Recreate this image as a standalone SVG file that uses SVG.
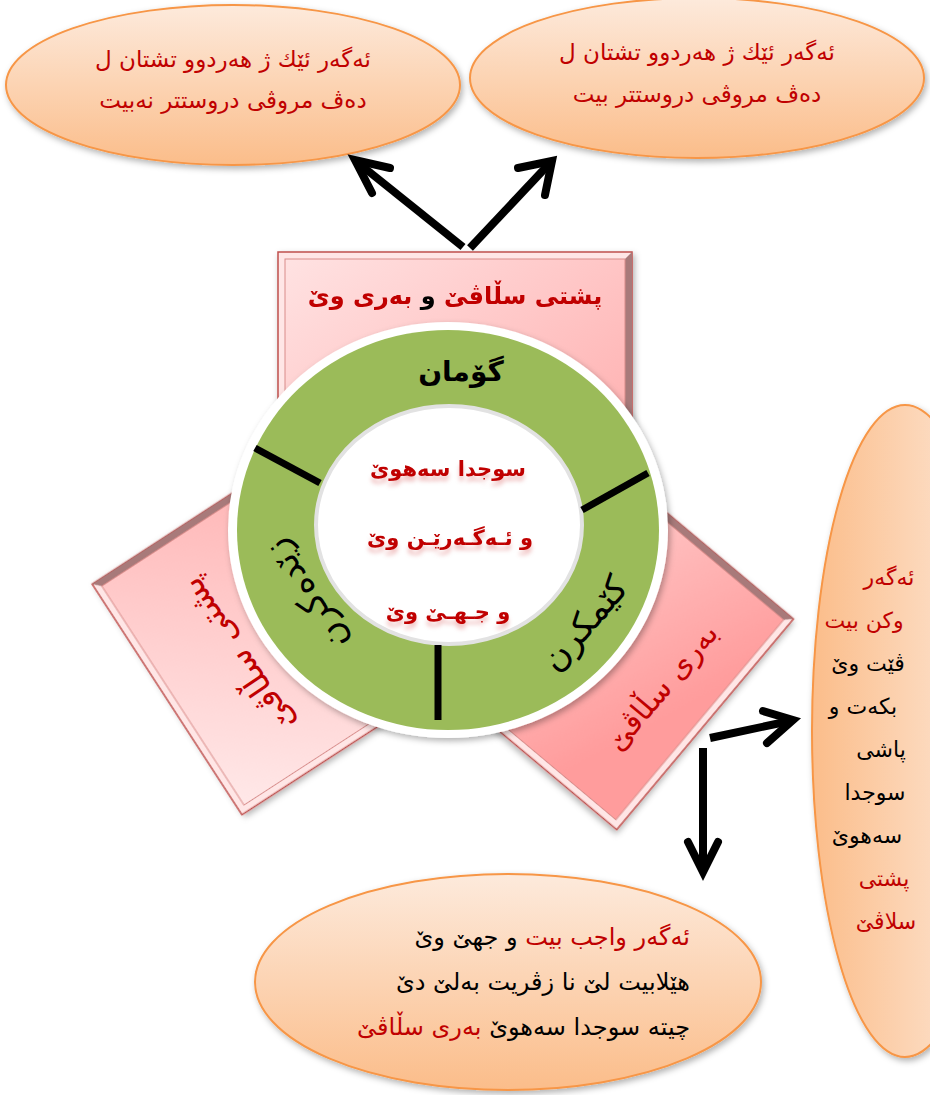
<svg xmlns="http://www.w3.org/2000/svg" width="930" height="1095" viewBox="0 0 930 1095">
<defs>
<style>
text{font-family:"DejaVu Sans",sans-serif;direction:rtl}
.red{fill:#c00000}
.blk{fill:#000}
.ell{stroke:#f79646;stroke-width:2}
.bevel{fill:#ffe6e6;stroke:#c0504d;stroke-width:1.5}
.face{stroke:#d98c8a;stroke-width:1}
.dark{fill:#a87a7a}
.div{stroke:#000;stroke-width:7}
.arr{stroke:#000;stroke-width:8;fill:none;stroke-linecap:butt}
.head{stroke-linecap:round;stroke-linejoin:miter}
</style>
<linearGradient id="gOr" x1="0" y1="0" x2="0" y2="1"><stop offset="0" stop-color="#fdeadc"/><stop offset="1" stop-color="#fbbd8a"/></linearGradient>
<linearGradient id="gOrH" x1="0" y1="0" x2="1" y2="0"><stop offset="0" stop-color="#fbbd8a"/><stop offset="1" stop-color="#fde9da"/></linearGradient>
<linearGradient id="gPT" x1="0" y1="0" x2="1" y2="1"><stop offset="0" stop-color="#ffe2e2"/><stop offset="1" stop-color="#ffa8a8"/></linearGradient>
<linearGradient id="gPL" x1="0" y1="1" x2="1" y2="0"><stop offset="0" stop-color="#ffe8e8"/><stop offset="1" stop-color="#ffa8a8"/></linearGradient>
<linearGradient id="gPR" x1="0" y1="0" x2="1" y2="0.3"><stop offset="0" stop-color="#ffe4e4"/><stop offset="1" stop-color="#ff9c9c"/></linearGradient>
<filter id="sh" x="-10%" y="-10%" width="125%" height="125%"><feDropShadow dx="2" dy="3" stdDeviation="3" flood-color="#000" flood-opacity="0.3"/></filter>
<filter id="tsh" x="-10%" y="-20%" width="120%" height="160%"><feDropShadow dx="0" dy="5" stdDeviation="2" flood-color="#c00000" flood-opacity="0.25"/></filter>
</defs>

<g id="ellipse-top-left">
<ellipse class="ell" cx="233" cy="85" rx="227" ry="80" fill="url(#gOr)" filter="url(#sh)"/>
<text x="233" y="67" font-size="23" text-anchor="middle" class="red">ئەگەر ئێك ژ هەردوو تشتان ل</text>
<text x="233" y="108" font-size="23" text-anchor="middle" class="red">دەڤ مروڤی دروستتر نەبیت</text>
</g>

<g id="ellipse-top-right">
<ellipse class="ell" cx="697" cy="78" rx="227" ry="80" fill="url(#gOr)" filter="url(#sh)"/>
<text x="697" y="60" font-size="23" text-anchor="middle" class="red">ئەگەر ئێك ژ هەردوو تشتان ل</text>
<text x="697" y="102" font-size="23" text-anchor="middle" class="red">دەڤ مروڤی دروستتر بیت</text>
</g>

<g id="ellipse-right">
<ellipse class="ell" cx="905" cy="731" rx="93" ry="326" fill="url(#gOrH)" filter="url(#sh)"/>
<g font-size="22" text-anchor="middle">
<text x="889" y="585" class="red">ئەگەر</text>
<text x="864" y="628" class="red">وکن بیت</text>
<text x="868" y="671" class="blk">ڤێت وێ</text>
<text x="863" y="714" class="blk">بکەت و</text>
<text x="881" y="757" class="blk">پاشی</text>
<text x="875" y="800" class="blk">سوجدا</text>
<text x="867" y="843" class="blk">سەهوێ</text>
<text x="884" y="886" class="red">پشتی</text>
<text x="886" y="929" class="red">سلاڤێ</text>
</g>
</g>

<g id="ellipse-bottom">
<ellipse class="ell" cx="508" cy="982" rx="253" ry="108" fill="url(#gOr)" filter="url(#sh)"/>
<g font-size="24" text-anchor="start">
<text x="690" y="945"><tspan class="red">ئەگەر واجب بیت</tspan><tspan class="blk"> و جهێ وێ</tspan></text>
<text x="690" y="990" class="blk">هێلابیت لێ نا زڤریت بەلێ دێ</text>
<text x="690" y="1035"><tspan class="blk">چیتە سوجدا سەهوێ </tspan><tspan class="red">بەری سڵاڤێ</tspan></text>
</g>
</g>

<g id="rect-left" transform="translate(315.5,603) rotate(-33)" filter="url(#sh)">
<rect class="bevel" x="-177" y="-137.5" width="354" height="275"/>
<polygon class="dark" points="-177,-137.5 177,-137.5 170,-130.5 -170,-130.5"/>
<rect class="face" x="-170" y="-130.5" width="340" height="261" fill="url(#gPL)"/>
</g>
<g id="rect-right" transform="translate(569.5,610.5) rotate(40)" filter="url(#sh)">
<rect class="bevel" x="-177" y="-137.5" width="354" height="275"/>
<polygon class="dark" points="-177,-137.5 177,-137.5 170,-130.5 -170,-130.5"/>
<rect class="face" x="-170" y="-130.5" width="340" height="261" fill="url(#gPR)"/>
</g>
<g id="rect-top" filter="url(#sh)">
<rect class="bevel" x="278" y="252" width="354" height="275"/>
<polygon class="dark" points="632,252 632,527 625,520 625,259"/>
<rect class="face" x="285" y="259" width="340" height="261" fill="url(#gPT)"/>
<text x="455" y="304" font-size="24" font-weight="bold" text-anchor="middle"><tspan class="red">پشتی سڵاڤێ</tspan><tspan class="blk"> و </tspan><tspan class="red">بەری وێ</tspan></text>
</g>
<text id="label-left" class="red" font-size="33" text-anchor="middle" transform="translate(238,655) rotate(-124)" dy="11">پشتی سڵاڤێ</text>
<text id="label-right" class="red" font-size="30" text-anchor="middle" transform="translate(662,687) rotate(-50)" dy="10">بەری سڵاڤێ</text>

<g id="ring">
<ellipse cx="448" cy="530" rx="220" ry="208" fill="#fff" filter="url(#sh)"/>
<ellipse cx="448" cy="530" rx="211" ry="200" fill="#9bbb59"/>
<ellipse cx="449" cy="525" rx="133" ry="119" fill="#fff" stroke="#e2e2e2" stroke-width="4"/>
<line class="div" x1="255" y1="448" x2="320" y2="483"/>
<line class="div" x1="582" y1="510" x2="648" y2="473"/>
<line class="div" x1="438" y1="645" x2="438" y2="720"/>
<text x="461" y="381" font-size="28" font-weight="bold" text-anchor="middle" class="blk">گۆمان</text>
<text font-size="35" text-anchor="middle" class="blk" transform="translate(585,624) rotate(-49)" dy="11">کێمکرن</text>
<text font-size="35" text-anchor="middle" class="blk" transform="translate(307,595) rotate(-123)" dy="11">زێدەکرن</text>
</g>

<g id="center" filter="url(#tsh)" font-size="21" font-weight="bold" text-anchor="middle">
<text x="448" y="476" class="red">سوجدا سەهوێ</text>
<text x="450" y="545" class="red">و ئـەگـەرێـن وێ</text>
<text x="448" y="619" class="red">و جـهـێ وێ</text>
</g>

<g id="connectors" class="arr">
<path d="M463,247 L357,162"/>
<path class="head" d="M390,168 L355,160 L372,193"/>
<path d="M470,248 L550,163"/>
<path class="head" d="M518,168 L552,161 L545,195"/>
<path d="M710,738 L790,721"/>
<path class="head" d="M763,711 L793,720 L767,743"/>
<path d="M703,748 L703,868"/>
<path class="head" d="M688,842 L703,872 L718,842"/>
</g>
</svg>
